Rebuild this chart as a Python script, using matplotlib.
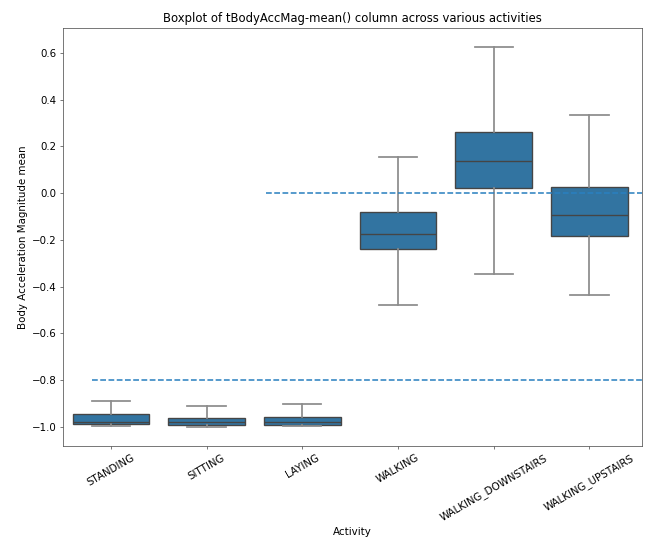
import matplotlib
matplotlib.use("Agg")
import matplotlib.pyplot as plt

# Summary statistics of tBodyAccMag-mean() per activity (whiskers without outliers)
activities = ["STANDING", "SITTING", "LAYING", "WALKING", "WALKING_DOWNSTAIRS", "WALKING_UPSTAIRS"]
whisker_low = [-0.998, -1.001, -0.998, -0.479, -0.345, -0.436]
q1 = [-0.990, -0.991, -0.991, -0.240, 0.021, -0.184]
median = [-0.980, -0.980, -0.978, -0.176, 0.136, -0.096]
q3 = [-0.947, -0.962, -0.957, -0.080, 0.263, 0.024]
whisker_high = [-0.888, -0.912, -0.902, 0.153, 0.625, 0.333]

# Reference thresholds separating static and dynamic activities
static_threshold = -0.8
dynamic_threshold = 0.0

fig = plt.figure(figsize=(651 / 70, 542 / 70), dpi=70)
ax = fig.add_axes([63 / 651, 1 - 446 / 542, 579 / 651, 418 / 542])

stats = [
    dict(label=a, whislo=lo, q1=b1, med=m, q3=b3, whishi=hi)
    for a, lo, b1, m, b3, hi in zip(activities, whisker_low, q1, median, q3, whisker_high)
]

edge_col = "#454545"
whisk_col = "#8c8c8c"
ax.bxp(
    stats,
    positions=range(len(activities)),
    widths=0.8,
    showfliers=False,
    patch_artist=True,
    boxprops=dict(facecolor="#3274a1", edgecolor=edge_col, linewidth=1.4),
    medianprops=dict(color=edge_col, linewidth=1.4),
    whiskerprops=dict(color=whisk_col, linewidth=1.8),
    capprops=dict(color=whisk_col, linewidth=1.8),
    capwidths=0.4,
)

ax.axhline(static_threshold, xmin=0.05, xmax=1, linestyle="--", color="#2a80c0", linewidth=1.6)
ax.axhline(dynamic_threshold, xmin=0.35, xmax=1, linestyle="--", color="#2a80c0", linewidth=1.6)

ax.set_xlim(-0.5, len(activities) - 0.5 + 0.05)
ax.set_xticks(range(len(activities)))
ax.set_xticklabels(activities, rotation=30, ha="center")
ax.tick_params(axis="both", labelsize=10.5, color="#555555")
for s in ax.spines.values():
    s.set_color("#555555")
ax.set_xlabel("Activity", fontsize=10.5)
ax.set_ylabel("Body Acceleration Magnitude mean", fontsize=10.5)
ax.set_title("Boxplot of tBodyAccMag-mean() column across various activities", fontsize=12)

fig.savefig("out.png", dpi=70)
